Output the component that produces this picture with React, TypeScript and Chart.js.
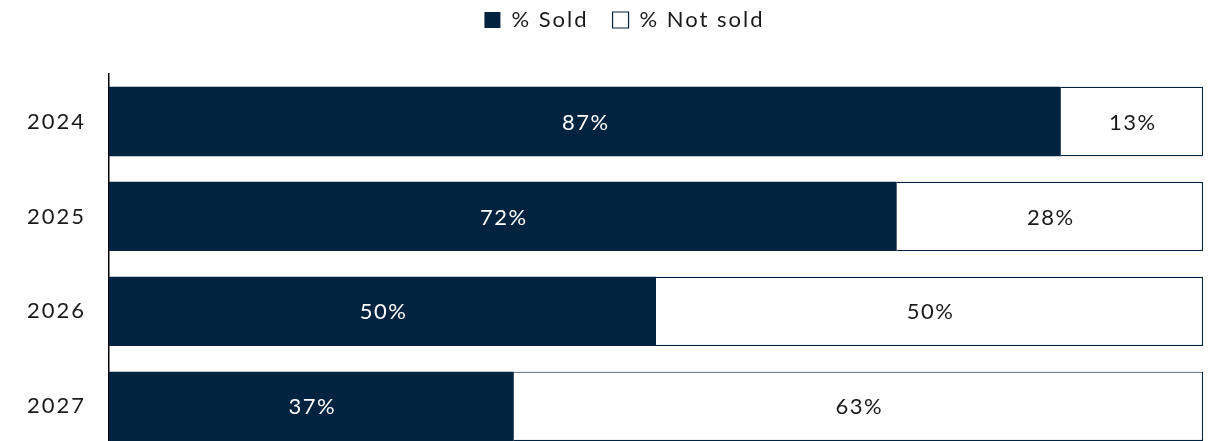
import React, { useEffect, useRef } from "react";
import { Chart, registerables } from "chart.js";

Chart.register(...registerables);

const categories = ["2024", "2025", "2026", "2027"];
const soldValues = [87, 72, 50, 37];
const notSoldValues = [13, 28, 50, 63];
const seriesNames = ["% Sold", "% Not sold"];

const DARK = "#01233f";
const TEXT = "#1a1a1a";
const FONT = "Lato, 'Noto Sans', sans-serif";
const LAYOUT_TOP = -15;
const AXIS_X = 109;
const LEGEND_HEIGHT = 74 - LAYOUT_TOP;
const LEGEND_SHIFT = 23;

const barLabels = {
  id: "barLabels",
  afterDatasetsDraw(chart: any) {
    const ctx = chart.ctx;
    ctx.save();
    ctx.font = `22px ${FONT}`;
    (ctx as any).letterSpacing = "1.5px";
    ctx.textAlign = "center";
    ctx.textBaseline = "middle";
    chart.data.datasets.forEach((ds: any, di: number) => {
      const meta = chart.getDatasetMeta(di);
      meta.data.forEach((bar: any, i: number) => {
        const v = ds.data[i];
        const cx = (bar.x + bar.base) / 2;
        ctx.fillStyle = di === 0 ? "#ffffff" : TEXT;
        ctx.fillText(`${v}%`, cx + 1, bar.y + 1);
      });
    });
    ctx.restore();
  },
};

const wideText = {
  id: "wideText",
  beforeLayout(chart: any) {
    (chart.ctx as any).letterSpacing = "2px";
    const lg = chart.legend;
    if (lg && !lg.__patched) {
      const orig = lg.fit.bind(lg);
      lg.fit = function () {
        orig();
        this.height = LEGEND_HEIGHT;
      };
      lg.__patched = true;
    }
  },
  afterLayout(chart: any) {
    const lg = chart.legend;
    if (lg) {
      lg.left += LEGEND_SHIFT;
      lg.right += LEGEND_SHIFT;
    }
  },
  beforeDraw(chart: any) {
    (chart.ctx as any).letterSpacing = "2px";
  },
};

export default function App() {
  const ref = useRef<HTMLCanvasElement | null>(null);
  useEffect(() => {
    if (!ref.current) return;
    const chart = new Chart(ref.current, {
      type: "bar",
      data: {
        labels: categories,
        datasets: [
          {
            label: seriesNames[0],
            data: soldValues,
            backgroundColor: DARK,
            borderColor: DARK,
            borderWidth: 0,
            barPercentage: 0.73,
            categoryPercentage: 1,
          },
          {
            label: seriesNames[1],
            data: notSoldValues,
            backgroundColor: "#ffffff",
            borderColor: DARK,
            borderWidth: 1.2,
            barPercentage: 0.73,
            categoryPercentage: 1,
          },
        ],
      },
      options: {
        indexAxis: "y",
        responsive: false,
        animation: false,
        layout: {
          padding: { top: LAYOUT_TOP, right: 9, bottom: 0, left: 0 },
        },
        plugins: {
          legend: {
            position: "top",
            labels: {
              boxWidth: 16,
              boxHeight: 16,
              padding: 24,
              color: TEXT,
              font: { size: 22, family: FONT },
            },
          },
          tooltip: { enabled: false },
        },
        scales: {
          x: {
            stacked: true,
            min: 0,
            max: 100,
            display: false,
          },
          y: {
            stacked: true,
            grid: { display: false, drawTicks: false },
            border: { display: true, color: "#000000", width: 1.5 },
            ticks: {
              color: TEXT,
              padding: 23,
              font: { size: 22, family: FONT },
            },
            afterFit(scale: any) {
              scale.width = AXIS_X;
            },
          },
        },
      },
      plugins: [barLabels, wideText],
    });
    return () => chart.destroy();
  }, []);
  return (
    <div
      style={{
        position: "fixed",
        left: 0,
        top: 0,
        width: 1212,
        height: 441,
        overflow: "hidden",
      }}
    >
      <canvas ref={ref} width={1212} height={490} style={{ display: "block" }} />
    </div>
  );
}
